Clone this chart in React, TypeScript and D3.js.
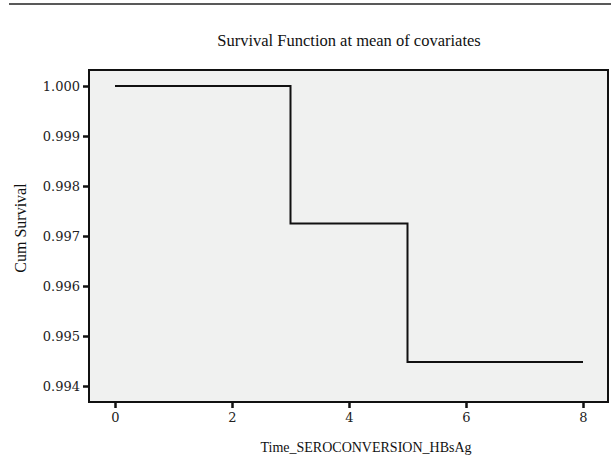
import React, { useEffect, useRef } from 'react'
import * as d3 from 'd3'

// step points of the survival curve (time, cum survival)
const times = [0, 3, 3, 5, 5, 8]
const survival = [1.0, 1.0, 0.99725, 0.99725, 0.99448, 0.99448]
const xTicks = [0, 2, 4, 6, 8]
const yTicks = [0.994, 0.995, 0.996, 0.997, 0.998, 0.999, 1.0]

const W = 611, H = 461

function draw(node: SVGSVGElement) {
  const svg = d3.select(node)
  svg.selectAll('*').remove()

  const frame = { left: 89, top: 70, right: 608, bottom: 402 }
  const x = d3.scaleLinear().domain([0, 8]).range([115, 583])
  const y = d3.scaleLinear().domain([0.994, 1.0]).range([386, 86])

  // rule at the top of the figure
  svg.append('line')
    .attr('x1', 9).attr('x2', W).attr('y1', 4).attr('y2', 4)
    .attr('stroke', '#222').attr('stroke-width', 1.5)

  svg.append('text')
    .attr('x', 349).attr('y', 46)
    .attr('text-anchor', 'middle')
    .attr('font-family', 'Liberation Serif')
    .attr('font-size', 16.5)
    .attr('fill', '#111')
    .text('Survival Function at mean of covariates')

  svg.append('rect')
    .attr('x', frame.left).attr('y', frame.top)
    .attr('width', frame.right - frame.left)
    .attr('height', frame.bottom - frame.top)
    .attr('fill', '#f0f1f0')
    .attr('stroke', '#111').attr('stroke-width', 2)

  // y axis
  const gy = svg.append('g')
    .attr('transform', 'translate(' + frame.left + ',0)')
    .call(d3.axisLeft(y).tickValues(yTicks).tickFormat(d3.format('.3f')).tickSize(6).tickPadding(3))
  gy.select('.domain').remove()
  gy.selectAll('line').attr('stroke', '#111').attr('stroke-width', 2.5)
  gy.selectAll('text')
    .attr('font-family', 'DejaVu Serif')
    .attr('font-size', 13)
    .attr('fill', '#222')

  // x axis
  const gx = svg.append('g')
    .attr('transform', 'translate(0,' + frame.bottom + ')')
    .call(d3.axisBottom(x).tickValues(xTicks).tickFormat(d3.format('d')).tickSize(6).tickPadding(5))
  gx.select('.domain').remove()
  gx.selectAll('line').attr('stroke', '#111').attr('stroke-width', 2.5)
  gx.selectAll('text')
    .attr('font-family', 'DejaVu Serif')
    .attr('font-size', 13)
    .attr('fill', '#222')

  svg.append('text')
    .attr('x', 366).attr('y', 452)
    .attr('text-anchor', 'middle')
    .attr('font-family', 'Liberation Serif')
    .attr('font-size', 14)
    .attr('fill', '#111')
    .text('Time_SEROCONVERSION_HBsAg')

  svg.append('text')
    .attr('transform', 'translate(26,228) rotate(-90)')
    .attr('text-anchor', 'middle')
    .attr('font-family', 'Liberation Serif')
    .attr('font-size', 16)
    .attr('fill', '#111')
    .text('Cum Survival')

  const line = d3.line<number>()
    .x((d, i) => x(times[i]))
    .y(d => y(d))

  svg.append('path')
    .datum(survival)
    .attr('d', line)
    .attr('fill', 'none')
    .attr('stroke', '#111')
    .attr('stroke-width', 2)
}

export default function App() {
  const ref = useRef<SVGSVGElement>(null)
  useEffect(() => {
    if (ref.current) draw(ref.current)
  }, [])
  return (
    <svg
      ref={ref}
      width={W}
      height={H}
      style={{ position: 'absolute', left: 0, top: 0, background: '#fff' }}
    />
  )
}
